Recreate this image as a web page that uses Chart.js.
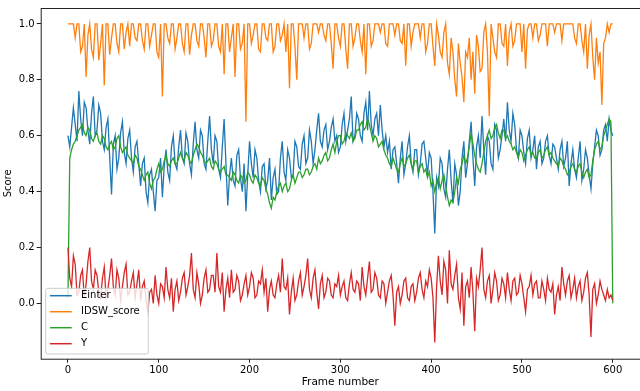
<!DOCTYPE html>
<html>
<head>
<meta charset="utf-8">
<script src="https://cdn.jsdelivr.net/npm/chart.js@4.4.1/dist/chart.umd.min.js"></script>
<style>
  html, body { margin: 0; padding: 0; background: #fff; }
  #chart { display: block; }
</style>
</head>
<body>
<canvas id="chart" width="640" height="391"></canvas>
<script>
// frame numbers, one sample every 2 frames (0..600)
const STEP = 2;
const FRAMES = Array.from({ length: 301 }, (_, i) => i * STEP);

const X_TICKS = [0, 100, 200, 300, 400, 500, 600];
const Y_TICKS = [0.0, 0.2, 0.4, 0.6, 0.8, 1.0];

const LABELS = ['Einter', 'IDSW_score', 'C', 'Y'];
const COLORS = ['#1f77b4', '#ff7f0e', '#2ca02c', '#d62728'];

const EINTER = [
  0.60,0.56,0.63,0.70,0.64,0.58,0.76,0.66,0.60,0.72,0.70,0.62,0.57,0.68,0.74,0.60,0.62,0.71,0.68,0.58,
  0.55,0.63,0.66,0.52,0.39,0.57,0.60,0.48,0.52,0.61,0.65,0.54,0.50,0.59,0.62,0.52,0.47,0.56,0.58,0.50,
  0.42,0.50,0.52,0.40,0.36,0.46,0.48,0.40,0.33,0.44,0.45,0.52,0.38,0.49,0.55,0.47,0.44,0.56,0.60,0.50,
  0.48,0.56,0.62,0.52,0.50,0.61,0.58,0.50,0.46,0.57,0.65,0.55,0.52,0.62,0.60,0.50,0.48,0.58,0.67,0.55,
  0.50,0.60,0.58,0.48,0.45,0.56,0.66,0.50,0.35,0.46,0.52,0.44,0.42,0.53,0.55,0.45,0.40,0.50,0.33,0.46,
  0.58,0.50,0.45,0.55,0.52,0.44,0.40,0.49,0.50,0.41,0.44,0.52,0.37,0.45,0.48,0.39,0.40,0.52,0.58,0.47,
  0.44,0.55,0.52,0.45,0.46,0.58,0.56,0.49,0.48,0.57,0.60,0.50,0.52,0.62,0.58,0.50,0.55,0.62,0.68,0.58,
  0.56,0.62,0.64,0.55,0.58,0.63,0.66,0.58,0.60,0.54,0.56,0.64,0.68,0.58,0.62,0.66,0.74,0.58,0.60,0.68,
  0.66,0.60,0.58,0.68,0.72,0.62,0.76,0.64,0.60,0.66,0.68,0.60,0.71,0.62,0.56,0.60,0.54,0.58,0.48,0.55,
  0.56,0.50,0.43,0.52,0.58,0.46,0.50,0.56,0.60,0.50,0.47,0.55,0.55,0.46,0.50,0.57,0.58,0.52,0.46,0.54,
  0.52,0.40,0.25,0.45,0.42,0.52,0.50,0.41,0.38,0.48,0.55,0.44,0.36,0.50,0.46,0.35,0.40,0.52,0.58,0.45,
  0.50,0.58,0.65,0.52,0.42,0.56,0.60,0.52,0.67,0.55,0.46,0.60,0.58,0.50,0.48,0.64,0.62,0.52,0.55,0.60,
  0.66,0.58,0.72,0.62,0.58,0.68,0.64,0.55,0.52,0.62,0.60,0.54,0.50,0.59,0.62,0.52,0.55,0.60,0.48,0.56,
  0.58,0.50,0.52,0.58,0.60,0.53,0.50,0.57,0.56,0.52,0.48,0.55,0.58,0.49,0.52,0.58,0.42,0.50,0.55,0.48,
  0.45,0.52,0.58,0.44,0.48,0.55,0.52,0.46,0.41,0.50,0.56,0.62,0.60,0.53,0.55,0.62,0.64,0.58,0.66,0.62,
  0.60
];

const IDSW = [
  1.00,1.00,1.00,1.00,0.95,1.00,1.00,0.90,0.92,1.00,0.81,0.96,1.00,0.91,0.88,1.00,1.00,0.87,0.93,1.00,
  0.78,1.00,1.00,0.89,0.95,1.00,1.00,0.93,0.90,1.00,1.00,0.91,0.97,1.00,0.92,1.00,1.00,0.95,0.94,1.00,
  1.00,0.94,0.91,1.00,1.00,0.92,0.96,1.00,1.00,0.90,0.88,1.00,0.74,1.00,1.00,0.95,0.93,1.00,1.00,0.91,
  0.95,1.00,1.00,0.93,0.90,1.00,1.00,0.89,0.96,1.00,1.00,0.94,0.92,1.00,1.00,0.95,0.88,1.00,1.00,0.92,
  0.94,1.00,1.00,0.92,0.90,1.00,0.82,1.00,1.00,0.90,0.95,1.00,0.81,1.00,1.00,0.91,0.93,1.00,0.65,1.00,
  1.00,0.93,0.96,1.00,1.00,0.91,0.90,1.00,1.00,0.95,0.94,1.00,1.00,0.90,0.92,1.00,1.00,0.94,0.96,1.00,
  0.90,1.00,0.77,1.00,1.00,0.92,0.80,1.00,1.00,1.00,0.95,1.00,1.00,0.91,0.93,1.00,1.00,1.00,0.97,1.00,
  1.00,0.96,0.94,1.00,1.00,0.93,0.84,1.00,1.00,0.95,0.92,1.00,1.00,0.91,0.84,1.00,1.00,0.92,0.95,1.00,
  1.00,0.94,0.90,1.00,0.82,1.00,1.00,0.92,0.94,1.00,1.00,1.00,0.97,1.00,1.00,0.93,0.92,1.00,1.00,1.00,
  0.96,1.00,1.00,0.94,0.93,1.00,0.85,1.00,1.00,0.92,0.97,1.00,1.00,1.00,0.95,1.00,1.00,0.90,0.93,1.00,
  1.00,0.92,0.85,1.00,0.96,0.90,0.88,0.97,1.00,0.86,0.82,0.95,0.90,0.80,0.74,0.93,0.86,0.81,0.72,0.90,
  0.88,0.95,0.80,0.90,0.75,0.96,0.92,0.83,0.84,0.97,1.00,0.90,0.67,1.00,0.95,0.90,0.88,1.00,1.00,0.93,
  0.92,1.00,0.85,0.97,1.00,0.92,0.94,1.00,1.00,1.00,0.90,1.00,0.84,0.98,1.00,1.00,0.95,1.00,1.00,0.94,
  0.96,1.00,1.00,1.00,0.92,1.00,1.00,1.00,0.97,1.00,1.00,1.00,0.94,1.00,1.00,1.00,1.00,1.00,1.00,0.95,
  0.93,1.00,1.00,0.94,0.90,1.00,0.84,0.96,1.00,0.88,0.80,0.95,0.86,0.90,0.71,0.93,0.95,1.00,0.97,1.00,
  1.00
];

const C = [
  0.02,0.52,0.55,0.57,0.58,0.60,0.62,0.63,0.64,0.61,0.60,0.63,0.62,0.59,0.58,0.60,0.61,0.58,0.57,0.60,
  0.59,0.56,0.55,0.57,0.58,0.55,0.56,0.59,0.60,0.56,0.54,0.55,0.56,0.53,0.52,0.51,0.50,0.53,0.52,0.49,
  0.48,0.46,0.44,0.46,0.47,0.43,0.41,0.44,0.45,0.48,0.50,0.47,0.48,0.51,0.53,0.50,0.49,0.51,0.52,0.50,
  0.50,0.52,0.54,0.52,0.51,0.54,0.53,0.51,0.50,0.53,0.55,0.57,0.56,0.54,0.53,0.51,0.50,0.51,0.52,0.49,
  0.48,0.51,0.50,0.48,0.47,0.48,0.49,0.46,0.46,0.45,0.44,0.47,0.46,0.44,0.43,0.46,0.45,0.43,0.44,0.47,
  0.46,0.44,0.43,0.46,0.45,0.43,0.42,0.45,0.44,0.41,0.39,0.36,0.34,0.38,0.37,0.40,0.42,0.43,0.40,0.42,
  0.43,0.40,0.41,0.44,0.46,0.43,0.45,0.47,0.47,0.45,0.46,0.48,0.48,0.46,0.47,0.49,0.50,0.48,0.52,0.50,
  0.51,0.53,0.54,0.51,0.52,0.55,0.57,0.54,0.58,0.60,0.60,0.57,0.58,0.61,0.60,0.59,0.61,0.58,0.59,0.62,
  0.62,0.64,0.65,0.62,0.63,0.66,0.64,0.61,0.58,0.60,0.59,0.56,0.57,0.58,0.55,0.53,0.52,0.50,0.49,0.52,
  0.50,0.48,0.47,0.50,0.52,0.49,0.50,0.52,0.53,0.50,0.48,0.51,0.51,0.47,0.49,0.50,0.47,0.48,0.45,0.47,
  0.42,0.44,0.40,0.43,0.45,0.41,0.44,0.46,0.42,0.38,0.35,0.37,0.36,0.40,0.45,0.43,0.48,0.50,0.53,0.50,
  0.52,0.56,0.61,0.57,0.53,0.50,0.48,0.47,0.50,0.54,0.58,0.60,0.62,0.59,0.60,0.63,0.64,0.61,0.59,0.62,
  0.62,0.59,0.60,0.58,0.57,0.55,0.56,0.54,0.52,0.55,0.54,0.51,0.53,0.55,0.56,0.53,0.54,0.52,0.52,0.54,
  0.55,0.52,0.53,0.55,0.56,0.53,0.54,0.52,0.51,0.50,0.49,0.52,0.51,0.49,0.48,0.46,0.47,0.49,0.50,0.48,
  0.47,0.49,0.50,0.47,0.45,0.47,0.48,0.45,0.46,0.51,0.55,0.57,0.58,0.55,0.56,0.60,0.62,0.64,0.66,0.65,
  0.00
];

const Y = [
  0.20,0.09,0.06,0.17,0.14,0.03,0.04,0.10,0.12,0.02,0.07,0.15,0.20,0.08,0.05,0.12,0.10,0.04,0.02,0.09,
  0.13,0.02,0.05,0.10,0.16,0.06,0.03,0.12,0.09,0.01,0.06,0.11,0.14,0.03,0.04,0.08,0.11,0.02,0.07,0.12,
  0.01,0.06,0.08,0.01,-0.03,0.04,0.05,0.00,0.10,0.03,0.00,0.07,0.06,0.02,0.13,0.05,0.02,0.09,-0.03,0.05,
  0.08,0.01,0.04,0.09,0.11,0.03,0.06,0.10,0.18,0.05,0.02,0.11,0.07,0.00,0.03,0.09,0.12,0.04,0.05,0.10,
  0.10,0.04,0.18,0.06,0.04,0.11,-0.03,0.05,0.09,0.02,0.12,0.04,0.05,0.10,0.08,0.01,0.03,0.07,0.10,0.03,
  0.06,0.11,0.09,0.02,0.03,0.08,0.07,0.12,0.04,0.09,-0.03,0.05,0.08,0.03,0.02,0.07,0.10,0.04,0.16,0.06,
  0.05,0.09,-0.04,0.04,0.09,0.01,0.03,0.08,0.11,0.03,0.06,0.10,0.16,0.05,0.02,0.09,0.12,0.04,-0.02,0.07,
  0.10,0.02,0.04,0.09,0.08,0.03,0.02,0.07,0.06,0.10,0.03,0.06,0.08,0.02,0.01,0.07,0.11,0.05,0.04,0.08,
  0.07,0.01,0.13,0.06,0.03,0.09,0.15,0.04,0.05,0.11,0.09,0.03,0.02,0.08,0.07,0.00,0.04,0.08,0.10,0.03,
  -0.08,0.04,0.06,0.00,0.03,0.08,0.09,0.02,0.01,0.06,0.07,0.01,0.04,0.09,0.11,0.05,0.02,0.08,0.06,0.12,
  0.09,0.02,-0.14,0.06,0.17,0.08,0.03,0.15,0.12,0.00,0.19,0.07,0.05,0.10,0.14,0.02,-0.02,0.11,-0.08,0.06,
  0.08,0.02,0.13,0.04,-0.10,0.09,0.06,0.12,0.20,0.05,0.02,0.08,0.10,0.00,0.05,0.11,0.08,0.01,0.03,0.09,
  0.07,0.02,0.11,0.05,0.01,0.08,0.09,0.03,0.04,0.10,0.07,0.02,-0.03,0.05,0.06,0.10,0.03,0.07,0.08,0.02,
  0.02,0.08,0.05,0.01,0.09,0.05,0.04,0.07,-0.04,0.03,0.06,0.01,0.13,0.07,0.03,0.08,0.10,0.02,0.05,0.09,
  0.02,0.06,0.08,0.01,0.04,0.09,0.11,0.03,-0.12,0.05,0.07,0.00,0.03,0.08,0.05,0.03,0.01,0.05,0.02,0.03,
  0.01
];

const SERIES = [EINTER, IDSW, C, Y];
const FONT = 'DejaVu Sans';

// frame around the axes + matplotlib style legend in lower left
const framePlugin = {
  id: 'mplFrame',
  afterDatasetsDraw(chart) {
    const { ctx, chartArea: a } = chart;
    ctx.save();
    ctx.strokeStyle = '#222';
    ctx.lineWidth = 1;
    ctx.strokeRect(a.left + 0.5, a.top + 0.5, a.right - a.left, a.bottom - a.top);

    // legend box
    const bx = 45.7, by = 288.3, bw = 102.6, bh = 65.7, r = 2;
    ctx.beginPath();
    ctx.moveTo(bx + r, by);
    ctx.lineTo(bx + bw - r, by);
    ctx.quadraticCurveTo(bx + bw, by, bx + bw, by + r);
    ctx.lineTo(bx + bw, by + bh - r);
    ctx.quadraticCurveTo(bx + bw, by + bh, bx + bw - r, by + bh);
    ctx.lineTo(bx + r, by + bh);
    ctx.quadraticCurveTo(bx, by + bh, bx, by + bh - r);
    ctx.lineTo(bx, by + r);
    ctx.quadraticCurveTo(bx, by, bx + r, by);
    ctx.closePath();
    ctx.fillStyle = 'rgba(255,255,255,0.8)';
    ctx.fill();
    ctx.strokeStyle = '#cccccc';
    ctx.lineWidth = 1;
    ctx.stroke();

    ctx.font = '10px "' + FONT + '"';
    ctx.textBaseline = 'middle';
    ctx.fillStyle = '#000';
    chart.data.datasets.forEach((ds, i) => {
      const yy = 295.7 + i * 16;
      ctx.strokeStyle = ds.borderColor;
      ctx.lineWidth = 1.5;
      ctx.beginPath();
      ctx.moveTo(50, yy);
      ctx.lineTo(71.7, yy);
      ctx.stroke();
      ctx.fillText(ds.label, 81, yy);
    });
    ctx.restore();
  }
};

const ctx = document.getElementById('chart').getContext('2d');

new Chart(ctx, {
  type: 'line',
  data: {
    datasets: SERIES.map((vals, i) => ({
      label: LABELS[i],
      data: FRAMES.map((f, j) => ({ x: f, y: vals[j] })),
      borderColor: COLORS[i],
      backgroundColor: COLORS[i],
      borderWidth: 1.3,
      pointRadius: 0,
      tension: 0,
      fill: false,
      order: 4 - i
    }))
  },
  options: {
    responsive: false,
    animation: false,
    devicePixelRatio: 1,
    layout: { padding: { left: 0, right: 0, top: 2.7, bottom: 0 } },
    plugins: {
      legend: { display: false },
      tooltip: { enabled: false }
    },
    scales: {
      x: {
        type: 'linear',
        min: -30,
        max: 630,
        afterBuildTicks: s => { s.ticks = X_TICKS.map(v => ({ value: v })); },
        afterFit: s => { s.height = 32.3; },
        border: { display: false },
        grid: { display: true, drawOnChartArea: false, drawTicks: true, tickLength: 4, color: '#222', lineWidth: 1 },
        ticks: { color: '#000', padding: 2, maxRotation: 0, font: { family: FONT, size: 10 } },
        title: { display: true, text: 'Frame number', color: '#000', padding: { top: 0, bottom: 2 }, font: { family: FONT, size: 10.5 } }
      },
      y: {
        min: -0.198,
        max: 1.057,
        afterBuildTicks: s => { s.ticks = Y_TICKS.map(v => ({ value: v })); },
        afterFit: s => { s.width = 40.7; },
        border: { display: false },
        grid: { display: true, drawOnChartArea: false, drawTicks: true, tickLength: 4, color: '#222', lineWidth: 1 },
        ticks: { color: '#000', padding: 2, font: { family: FONT, size: 10 }, callback: v => v.toFixed(1) },
        title: { display: true, text: 'Score', color: '#000', padding: { top: 2, bottom: 0 }, font: { family: FONT, size: 10 } }
      }
    }
  },
  plugins: [framePlugin]
});
</script>
</body>
</html>
